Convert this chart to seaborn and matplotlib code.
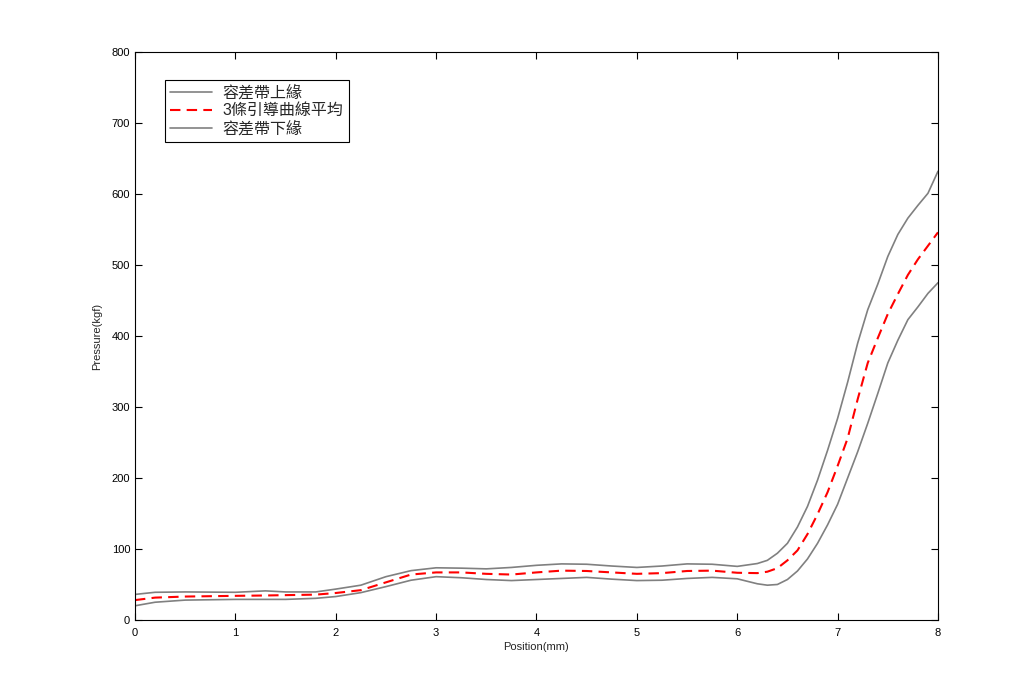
import matplotlib
matplotlib.use("Agg")
import matplotlib.pyplot as plt
import seaborn as sns
import pandas as pd

# position grid (mm) and the three curves (kgf)
position = [0, 0.2, 0.5, 1, 1.3, 1.5, 1.8, 2, 2.25, 2.5, 2.75, 3, 3.25, 3.5, 3.75,
            4, 4.25, 4.5, 4.75, 5, 5.25, 5.5, 5.75, 6, 6.2, 6.3, 6.4, 6.5, 6.6,
            6.7, 6.8, 6.9, 7.0, 7.1, 7.2, 7.3, 7.4, 7.5, 7.6, 7.7, 7.8, 7.9, 8.0]
upper = [36, 39, 39.5, 39, 41, 39.5, 39.5, 43.5, 49, 61, 69.5, 73.5, 73, 72, 74,
         77, 79, 78.5, 76, 74, 76, 79, 78.5, 75.5, 79.5, 84, 94, 108, 131,
         160, 197, 239, 284, 335, 390, 437, 473, 512, 543, 566, 584, 601, 632]
mean = [28, 31.5, 33, 34, 34.5, 35, 35.7, 38, 42, 53, 64, 67, 67, 65, 64,
        67, 69.5, 69, 67, 65, 66, 69, 69.5, 66.5, 66, 68, 73, 84, 98,
        121, 149, 180, 217, 256, 311, 362, 397, 431, 459, 486, 508, 527, 546]
lower = [20, 25, 28, 29, 29, 29, 30.5, 33, 38.5, 47, 56, 61, 59.5, 57, 55.5,
         57, 58.5, 60, 57.5, 55.5, 56, 58.5, 60, 58, 51, 49, 50, 57, 69,
         86, 108, 134, 163, 200, 237, 277, 319, 362, 394, 423, 441, 460, 475]

labels = ["容差帶上緣", "3條引導曲線平均", "容差帶下緣"]

df = pd.DataFrame({"pos": position, "upper": upper, "mean": mean, "lower": lower})

sns.set_style("ticks")
plt.rcParams["font.family"] = ["Liberation Sans", "Noto Sans CJK TC"]
plt.rcParams["font.size"] = 8

fig = plt.figure(figsize=(10.36, 6.97), dpi=100)
ax = fig.add_axes([0.1303, 0.1105, 0.7751, 0.8149])

gray = "#808080"
sns.lineplot(data=df, x="pos", y="upper", color=gray, linewidth=1.2, label=labels[0], ax=ax)
sns.lineplot(data=df, x="pos", y="mean", color="red", linewidth=1.5, dashes=False,
             label=labels[1], ax=ax)
ax.lines[-1].set_dashes((5, 3))
sns.lineplot(data=df, x="pos", y="lower", color=gray, linewidth=1.2, label=labels[2], ax=ax)

ax.set_xlim(0, 8)
ax.set_ylim(0, 800)
ax.set_xticks(range(0, 9))
ax.set_yticks(range(0, 801, 100))
ax.set_xlabel("Position(mm)", fontsize=8, labelpad=3)
ax.set_ylabel("Pressure(kgf)", fontsize=8, labelpad=7)
ax.tick_params(axis="x", pad=6)
ax.tick_params(direction="in", length=5, width=0.8, top=True, right=True,
               labelsize=8, colors="black")
for s in ax.spines.values():
    s.set_visible(True)
    s.set_color("black")
    s.set_linewidth(0.8)

leg = ax.legend(loc="upper left", bbox_to_anchor=(0.037, 0.951), borderaxespad=0,
                frameon=True, fancybox=False, framealpha=1, edgecolor="black",
                fontsize=11.5, handlelength=2.6, handletextpad=0.65, labelspacing=0.15,
                borderpad=0.35)
leg.get_frame().set_linewidth(0.8)

fig.savefig("out.png", dpi=100, facecolor="white")
